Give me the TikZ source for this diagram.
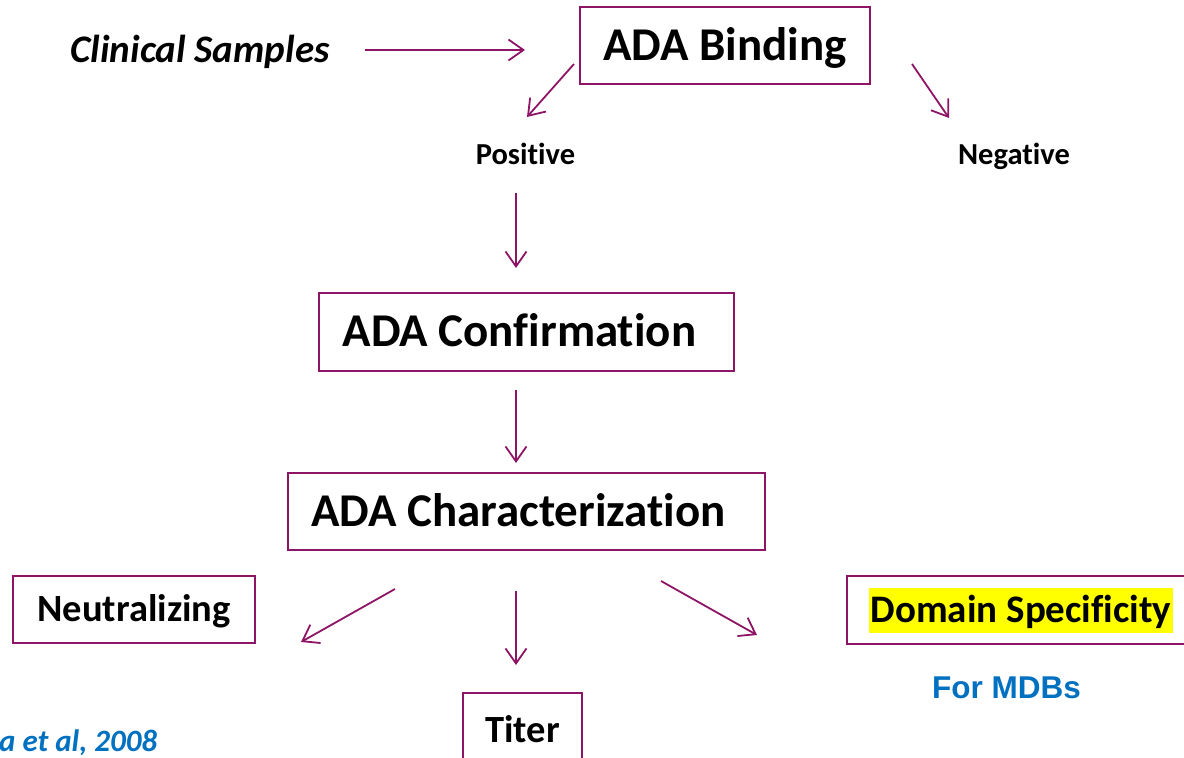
\documentclass[tikz,border=0pt]{standalone}
\usepackage{fontspec}
\setmainfont{Carlito}[Ligatures={NoCommon}]
\newfontfamily\arialfont{Liberation Sans}
\usetikzlibrary{arrows.meta}
\definecolor{plum}{HTML}{8E1566}
\definecolor{refblue}{HTML}{0070C0}
\definecolor{hilite}{HTML}{FFFF00}
\tikzset{
  flowbox/.style={draw=plum, line width=2pt, rectangle, inner sep=0pt, text depth=0pt},
  bigtext/.style={font=\fontsize{47}{50}\selectfont\bfseries, text height=29.7pt},
  midtext/.style={font=\fontsize{38.5}{42}\selectfont\bfseries, text height=24.3pt},
  smalltext/.style={font=\fontsize{30.5}{33}\selectfont\bfseries, text height=19.3pt},
  flowarrow/.style={draw=plum, line width=1.8pt,
    -{Straight Barb[length=15pt, width=21pt, line width=1.8pt]}},
  caption/.style={inner sep=0pt, text depth=0pt},
}
\begin{document}
\begin{tikzpicture}[x=1pt, y=-1pt]
\clip (0,0) rectangle (1184,758);
\fill[white] (0,0) rectangle (1184,758);

% boxes
\node[flowbox, bigtext, minimum width=290pt, minimum height=77pt] (bind) at (725,45.5) {ADA Binding};
\node[flowbox, bigtext, minimum width=415pt, minimum height=78pt] (conf) at (526.5,332) {\hspace*{-14pt}ADA Confirmation};
\node[flowbox, bigtext, minimum width=477pt, minimum height=77pt] (char) at (526.5,511.5) {\hspace*{-16pt}ADA Characterization};
\node[flowbox, midtext, minimum width=242pt, minimum height=67pt] (neut) at (134,609.5) {Neutralizing};
\node[flowbox, midtext, minimum width=119pt, minimum height=74pt] (titer) at (522.5,730) {Titer};
\node[flowbox, minimum width=360pt, minimum height=68pt] (dom) at (1027,610) {};
\node[caption, fill=hilite, inner xsep=2pt, inner ysep=10pt,
  font=\fontsize{39}{42}\selectfont\bfseries, text height=24.6pt] (domtxt) at (1021,610.5) {Domain Specificity};

% free labels
\node[caption, font=\fontsize{39}{42}\selectfont\bfseries\itshape, text height=24.6pt] (clin) at (200,50.5) {Clinical Samples};
\node[caption, smalltext] (pos) at (525.5,155) {Positive};
\node[caption, smalltext] (neg) at (1014,155) {Negative};
\node[caption, text height=22.5pt, text=refblue,
  font=\fontsize{31.5}{34}\selectfont\arialfont\bfseries] (mdb) at (1006.5,687) {For MDBs};
\node[caption, anchor=west, text=refblue, text height=19.6pt,
  font=\fontsize{31}{34}\selectfont\bfseries\itshape] (ref) at (-1,742) {a et al, 2008};

% connector ends
\coordinate (clinE) at (365,50);   \coordinate (bindW) at (525,50);
\coordinate (bindSW) at (574,64);  \coordinate (posN) at (527,117);
\coordinate (bindSE) at (912,64);  \coordinate (negN) at (949,118);
\coordinate (posS) at (516,193);   \coordinate (confN) at (516,268);
\coordinate (confS) at (516,390);  \coordinate (charN) at (516,463);
\coordinate (charSW) at (395,589); \coordinate (neutE) at (301,642);
\coordinate (charS) at (516,591);  \coordinate (titerN) at (516,665);
\coordinate (charSE) at (661,581); \coordinate (domW) at (757,635);

% connectors
\draw[flowarrow] (clinE) -- (bindW);
\draw[flowarrow] (bindSW) -- (posN);
\draw[flowarrow] (bindSE) -- (negN);
\draw[flowarrow] (posS) -- (confN);
\draw[flowarrow] (confS) -- (charN);
\draw[flowarrow] (charSW) -- (neutE);
\draw[flowarrow] (charS) -- (titerN);
\draw[flowarrow] (charSE) -- (domW);
\end{tikzpicture}
\end{document}
